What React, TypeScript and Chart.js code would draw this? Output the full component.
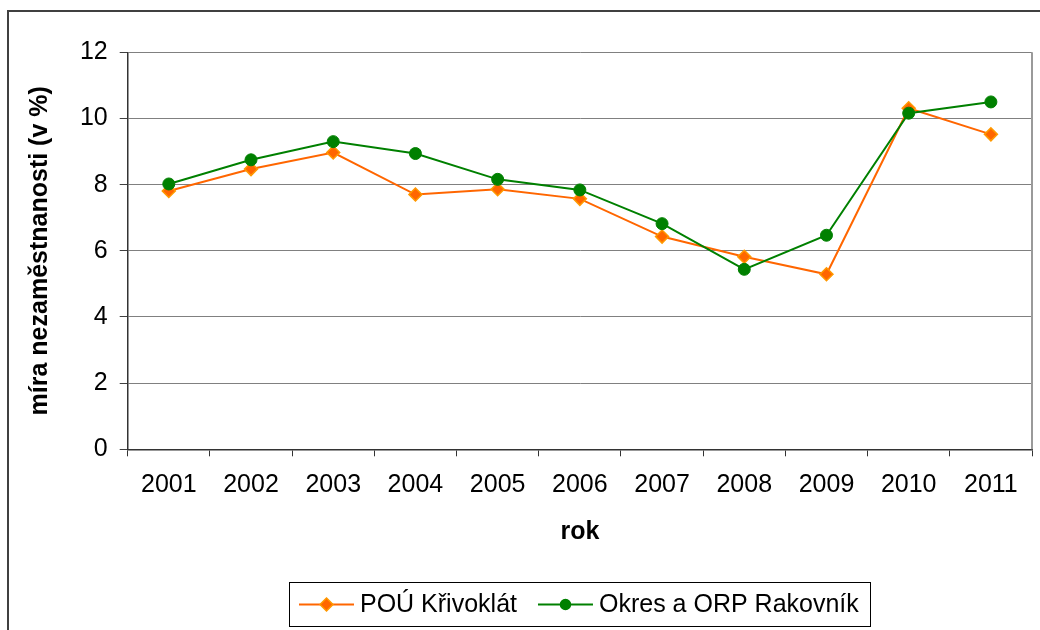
import React, { useEffect, useRef } from 'react';
import { Chart, registerables } from 'chart.js';

Chart.register(...registerables);

const years = ['2001', '2002', '2003', '2004', '2005', '2006', '2007', '2008', '2009', '2010', '2011'];
const krivoklat = [7.81, 8.47, 8.97, 7.7, 7.86, 7.57, 6.43, 5.82, 5.29, 10.31, 9.52];
const rakovnik = [8.02, 8.75, 9.3, 8.94, 8.16, 7.84, 6.82, 5.44, 6.47, 10.16, 10.5];
const seriesNames = ['POÚ Křivoklát', 'Okres a ORP Rakovník'];
const xTitle = 'rok';
const yTitle = 'míra nezaměstnanosti (v %)';
const yMin = 0;
const yMax = 12;
const yStep = 2;

const FONT = "'Liberation Sans', Arial, Helvetica, sans-serif";

const framePlugin = {
  id: 'frame',
  afterDraw(chart: any) {
    const { ctx, chartArea } = chart;
    ctx.save();
    // outer chart border
    ctx.strokeStyle = '#404040';
    ctx.lineWidth = 2;
    ctx.beginPath();
    ctx.moveTo(8, 700);
    ctx.lineTo(8, 11);
    ctx.lineTo(1100, 11);
    ctx.stroke();
    // plot area right border
    ctx.strokeStyle = '#9a9a9a';
    ctx.lineWidth = 2;
    ctx.beginPath();
    ctx.moveTo(chartArea.right, chartArea.top);
    ctx.lineTo(chartArea.right, chartArea.bottom);
    ctx.stroke();

    // legend
    ctx.font = `25px ${FONT}`;
    const ds = chart.data.datasets;
    const widths = ds.map((d: any) => ctx.measureText(d.label).width);
    const lineLen = 55, gapText = 6, gapItem = 21, padL = 10, padR = 11;
    let total = padL + padR + gapItem * (ds.length - 1);
    widths.forEach((w: number) => (total += lineLen + gapText + w));
    const cx = (chartArea.left + chartArea.right) / 2;
    let x = Math.round(cx - total / 2);
    const top = 582, h = 44, cy = 604.5;
    ctx.fillStyle = '#ffffff';
    ctx.fillRect(x, top, total, h);
    ctx.strokeStyle = '#000000';
    ctx.lineWidth = 1;
    ctx.strokeRect(x + 0.5, top + 0.5, Math.round(total), h);
    x += padL;
    ds.forEach((d: any, i: number) => {
      ctx.strokeStyle = d.borderColor;
      ctx.lineWidth = 2;
      ctx.beginPath();
      ctx.moveTo(x, cy);
      ctx.lineTo(x + lineLen, cy);
      ctx.stroke();
      const mx = x + lineLen / 2;
      ctx.fillStyle = d.pointBackgroundColor;
      ctx.strokeStyle = d.pointBorderColor;
      ctx.lineWidth = 1.5;
      ctx.beginPath();
      if (d.pointStyle === 'rectRot') {
        const r = 6.5;
        ctx.moveTo(mx, cy - r);
        ctx.lineTo(mx + r, cy);
        ctx.lineTo(mx, cy + r);
        ctx.lineTo(mx - r, cy);
        ctx.closePath();
      } else {
        ctx.arc(mx, cy, 5, 0, Math.PI * 2);
      }
      ctx.fill();
      ctx.stroke();
      x += lineLen + gapText;
      ctx.fillStyle = '#000000';
      ctx.textAlign = 'left';
      ctx.textBaseline = 'middle';
      ctx.fillText(d.label, x, cy + 1);
      x += widths[i] + gapItem;
    });
    ctx.restore();
  },
};

export default function App() {
  const ref = useRef<HTMLCanvasElement | null>(null);

  useEffect(() => {
    if (!ref.current) return;
    const chart = new Chart(ref.current, {
      type: 'line',
      data: {
        labels: years,
        datasets: [
          {
            label: seriesNames[0],
            data: krivoklat,
            borderColor: '#FF6600',
            backgroundColor: '#FF6600',
            borderWidth: 2,
            pointStyle: 'rectRot',
            pointRadius: 6.5,
            pointBackgroundColor: '#FF6600',
            pointBorderColor: '#FF9900',
            pointBorderWidth: 1.5,
            tension: 0,
            order: 1,
          },
          {
            label: seriesNames[1],
            data: rakovnik,
            borderColor: '#008000',
            backgroundColor: '#008000',
            borderWidth: 2,
            pointStyle: 'circle',
            pointRadius: 6,
            pointBackgroundColor: '#008000',
            pointBorderColor: '#008000',
            pointBorderWidth: 1,
            tension: 0,
            order: 0,
          },
        ],
      },
      options: {
        responsive: false,
        animation: false,
        layout: { padding: { left: 0, top: 52.3, right: 7.3, bottom: 83 } },
        plugins: {
          legend: { display: false },
          tooltip: { enabled: false },
        },
        scales: {
          x: {
            type: 'category',
            offset: true,
            grid: {
              display: true,
              offset: true,
              drawOnChartArea: false,
              drawTicks: true,
              tickLength: 7,
              color: '#333333',
              lineWidth: 1,
            },
            border: { display: true, color: '#333333', width: 1.5 },
            ticks: {
              color: '#000000',
              font: { family: FONT, size: 25 },
              padding: 14,
              maxRotation: 0,
              autoSkip: false,
            },
            title: {
              display: true,
              text: xTitle,
              color: '#000000',
              font: { family: FONT, size: 25, weight: 'bold' },
              padding: { top: 0, bottom: 0 },
            },
            afterFit: (scale: any) => {
              scale.height = 97.7;
            },
          },
          y: {
            min: yMin,
            max: yMax,
            grid: {
              color: '#808080',
              lineWidth: 1,
              drawTicks: true,
              tickLength: 8,
              tickColor: '#404040',
            },
            border: { display: true, color: '#333333', width: 1.5 },
            ticks: {
              stepSize: yStep,
              color: '#000000',
              font: { family: FONT, size: 25 },
              padding: 12,
            },
            title: {
              display: true,
              text: yTitle,
              color: '#000000',
              font: { family: FONT, size: 25, weight: 'bold' },
              padding: { top: 25, bottom: 0 },
            },
            afterFit: (scale: any) => {
              scale.width = 127.7;
            },
          },
        },
      },
      plugins: [framePlugin],
    });
    return () => chart.destroy();
  }, []);

  return (
    <div style={{ position: 'fixed', left: 0, top: 0, width: 1040, height: 630, background: '#ffffff' }}>
      <canvas ref={ref} width={1040} height={630} style={{ display: 'block' }} />
    </div>
  );
}
